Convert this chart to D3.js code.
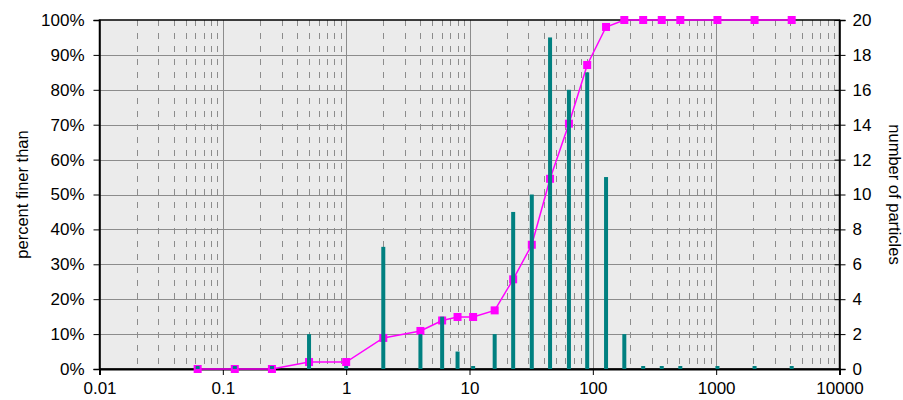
<!DOCTYPE html>
<html>
<head>
<meta charset="utf-8">
<script src="https://cdn.jsdelivr.net/npm/d3@7/dist/d3.min.js"></script>
<style>
  html, body { margin: 0; padding: 0; background: #fff; }
  svg { display: block; font-family: "Liberation Sans", Arial, sans-serif; }
</style>
</head>
<body>
<svg id="chart" width="903" height="400"></svg>
<script>
// Grain size (mm), particle counts per size class, cumulative percent finer
const sizes = [0.0625, 0.125, 0.25, 0.5, 1, 2, 4, 6, 8, 10.7, 16, 22.6, 32, 45, 64, 90, 128, 180, 256, 362, 512, 1024, 2048, 4096];
const counts = [0, 0, 0, 2, 0, 7, 2, 3, 1, 0, 2, 9, 10, 19, 16, 17, 11, 2, 0, 0, 0, 0, 0, 0];
const percentFiner = [0, 0, 0, 2.0, 2.0, 8.9, 10.9, 13.9, 14.9, 14.9, 16.8, 25.7, 35.6, 54.5, 70.3, 87.1, 98.0, 100, 100, 100, 100, 100, 100, 100];

const xTicks = [0.01, 0.1, 1, 10, 100, 1000, 10000];
const xTickLabels = ["0.01", "0.1", "1", "10", "100", "1000", "10000"];
const leftTicks = [0, 10, 20, 30, 40, 50, 60, 70, 80, 90, 100];
const rightTicks = [0, 2, 4, 6, 8, 10, 12, 14, 16, 18, 20];

const leftTitle = "percent finer than";
const rightTitle = "number of particles";

const svg = d3.select("#chart");
const L = 99.5, R = 839.5, T = 20, B = 369;

const x = d3.scaleLog().domain([0.01, 10000]).range([L, R]);
const yL = d3.scaleLinear().domain([0, 100]).range([B, T]);
const yR = d3.scaleLinear().domain([0, 20]).range([B, T]);

// plot background
svg.append("rect").attr("x", L).attr("y", T).attr("width", R - L).attr("height", B - T)
  .attr("fill", "#ebebeb");

const grid = svg.append("g");
// minor (dashed) verticals at 2..9 of each decade
const minor = [];
for (let e = -2; e < 4; e++) for (let m = 2; m <= 9; m++) minor.push(m * Math.pow(10, e));
grid.selectAll("line.minor").data(minor).join("line")
  .attr("x1", d => Math.round(x(d)) + 0.5).attr("x2", d => Math.round(x(d)) + 0.5)
  .attr("y1", T).attr("y2", B)
  .attr("stroke", "#8c8c8c").attr("stroke-width", 1).attr("stroke-dasharray", "6,7");
// horizontal gridlines
grid.selectAll("line.h").data(leftTicks.slice(1, -1)).join("line")
  .attr("x1", L).attr("x2", R)
  .attr("y1", d => Math.round(yL(d)) + 0.5).attr("y2", d => Math.round(yL(d)) + 0.5)
  .attr("stroke", "#8c8c8c").attr("stroke-width", 1);
// decade verticals
grid.selectAll("line.v").data(xTicks.slice(1, -1)).join("line")
  .attr("x1", d => Math.round(x(d)) + 0.5).attr("x2", d => Math.round(x(d)) + 0.5)
  .attr("y1", T).attr("y2", B)
  .attr("stroke", "#8c8c8c").attr("stroke-width", 1);

// frame
svg.append("rect").attr("x", L).attr("y", T).attr("width", R - L).attr("height", B - T)
  .attr("fill", "none").attr("stroke", "#000").attr("stroke-width", 1.5);

// axes
const fontSize = 17;
const axL = d3.axisLeft(yL).tickValues(leftTicks).tickFormat(d => d + "%").tickSize(6).tickPadding(9);
const gL = svg.append("g").attr("transform", `translate(${L},0)`).call(axL);
const axR = d3.axisRight(yR).tickValues(rightTicks).tickSize(6).tickPadding(7);
const gR = svg.append("g").attr("transform", `translate(${R},0)`).call(axR);
const axB = d3.axisBottom(x).tickValues(xTicks).tickFormat((d, i) => xTickLabels[i]).tickSize(6).tickPadding(7);
const gB = svg.append("g").attr("transform", `translate(0,${B})`).call(axB);
[gL, gR, gB].forEach(g => {
  g.select(".domain").attr("stroke", "#000").attr("stroke-width", 1.5);
  g.selectAll(".tick line").attr("stroke", "#000").attr("stroke-width", 1);
  g.selectAll(".tick text").attr("fill", "#000").attr("font-size", fontSize)
    .attr("font-family", "'Liberation Sans', Arial, sans-serif");
});
// right ticks cross the frame
gR.selectAll(".tick line").attr("x1", -5);
gB.select(".domain").attr("stroke-width", 2);

// axis titles
svg.append("text").attr("transform", `translate(28,${(T + B) / 2}) rotate(-90)`)
  .attr("text-anchor", "middle").attr("font-size", 16.5).text(leftTitle);
svg.append("text").attr("transform", `translate(889,${(T + B) / 2}) rotate(90)`)
  .attr("text-anchor", "middle").attr("font-size", 16.5).text(rightTitle);

// cumulative curve
const pts = sizes.map((s, i) => [s, percentFiner[i]]);
svg.append("path").datum(pts)
  .attr("d", d3.line().x(d => x(d[0])).y(d => yL(d[1])))
  .attr("fill", "none").attr("stroke", "#ff00ff").attr("stroke-width", 1.5);
const ms = 8;
svg.selectAll("rect.marker").data(pts).join("rect")
  .attr("x", d => x(d[0]) - ms / 2).attr("y", d => yL(d[1]) - ms / 2)
  .attr("width", ms).attr("height", ms).attr("fill", "#ff00ff");

// particle counts
const bw = 4;
svg.selectAll("rect.bar").data(sizes.map((s, i) => [s, counts[i]])).join("rect")
  .attr("x", d => x(d[0]) - bw / 2)
  .attr("y", d => Math.min(yR(d[1]), B - 3))
  .attr("width", bw)
  .attr("height", d => Math.max(B - yR(d[1]), 3))
  .attr("fill", "#008080");
</script>
</body>
</html>
